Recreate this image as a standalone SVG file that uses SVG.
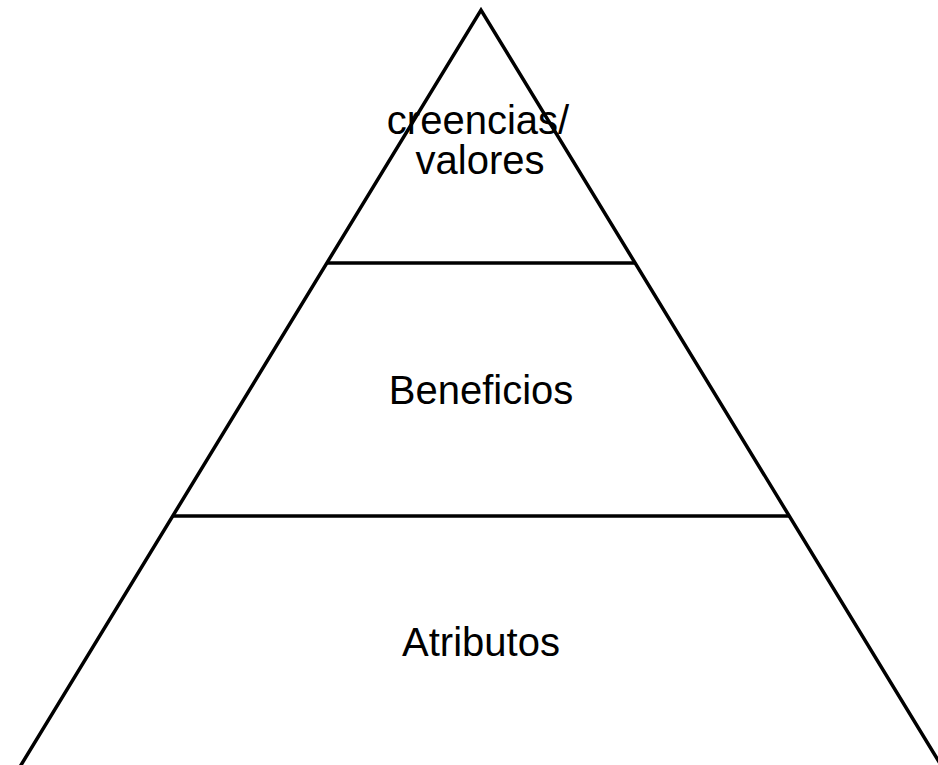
<svg xmlns="http://www.w3.org/2000/svg" width="938" height="765" viewBox="0 0 938 765">
<style>
.ln{stroke:#000;stroke-width:3.5;fill:none;stroke-linecap:butt}
.t{font-family:"Liberation Sans",Arial,sans-serif;font-size:40px;fill:#000;text-anchor:middle}
</style>
<rect width="938" height="765" fill="#fff"/>
<g id="connectors">
<path class="ln" d="M18,770 L481,10 L944,770"/>
<line class="ln" x1="327" y1="263" x2="635" y2="263"/>
<line class="ln" x1="172" y1="516" x2="789" y2="516"/>
</g>
<g id="top"><text class="t" x="478" y="134">creencias/</text><text class="t" x="480" y="174">valores</text></g>
<g id="middle"><text class="t" x="481" y="404">Beneficios</text></g>
<g id="bottom"><text class="t" x="481" y="656">Atributos</text></g>
</svg>
